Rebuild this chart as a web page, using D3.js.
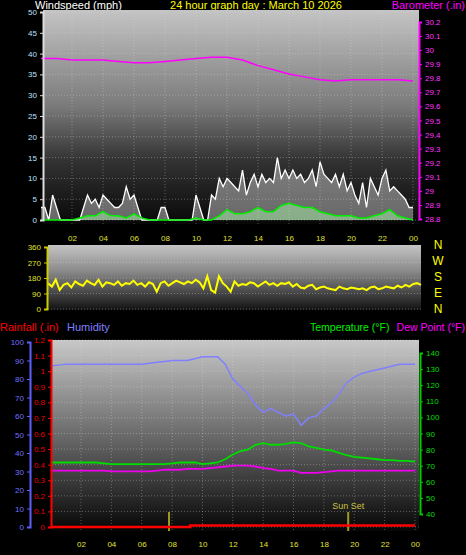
<!DOCTYPE html>
<html><head><meta charset="utf-8">
<script src="https://cdn.jsdelivr.net/npm/d3@7"></script>
<style>body{margin:0;background:#000}svg{display:block;font-family:"Liberation Sans",Arial,sans-serif}</style>
</head><body><div id="chart"></div>
<script>
// hour labels along each time axis
const hourTicks = ['02','04','06','08','10','12','14','16','18','20','22','00'];
// wind gusts every 15 min (mph)
const gust = [3,3,0,6, 3,0,0,0, 0,0,0,3, 6,4,5,3, 6,5,4,3, 3,4,8,5, 6,3,0,0, 0,0,0,3,
  3,0,0,0, 0,0,0,0, 6,3,0,0, 6,5,10,8, 10,9,8,7, 12,6,9,11, 8,11,9,10, 9,15,10,12,
  10,12,10,11, 9,10,12,8, 14,11,10,9, 11,8,11,7, 9,6,4,9, 3,10,8,6, 10,12,7,8, 7,6,5,3, 3];
// average wind every 30 min (mph)
const windAvg = [0,0,0,0,0,0.5,1,1,2,1,1,0.5,1.5,0.5,0,0,0,0,0,0,0.5,0,0,1,2.5,1.5,1.5,2,3,2,2,3.5,
  4,3.5,3,3,2,1.5,1,1,1,0.5,0.5,1,1.5,2.5,1,0.5,0];
// barometer hourly (in)
const baro = [29.94,29.94,29.93,29.93,29.93,29.92,29.91,29.91,29.92,29.93,29.94,29.95,29.95,29.93,
  29.89,29.86,29.83,29.81,29.79,29.78,29.79,29.79,29.79,29.79,29.78];
// wind direction every 15 min (deg)
const windDir = [150,130,170,110,140,150,125,160,145,135,165,150,140,170,130,155,150,140,160,135,
  150,145,165,140,150,130,155,145,100,150,160,135,150,165,155,145,160,150,170,155,
  120,190,110,95,190,150,130,100,160,135,145,140,155,150,130,145,160,140,150,135,
  150,145,155,130,145,125,120,135,140,115,125,130,120,115,110,130,120,115,125,120,
  115,120,110,125,130,115,120,130,125,120,135,125,140,130,145,150,140];
// bottom panel, every 30 min
const humidity = [87,87.5,88,88,88,88,88,88,88,88,88,88,88,88.5,89,89.5,90,90,90,91,92,92,92,88,
  80,76,72,66,62,64,62,60,61,55,59,60,64,67,72,78,81,83,84,85,86,87,88,88,88];
const temperature = [72,72,72,72,72,72,72,71.5,71,71,71,71,71,71,71,71,71.5,72,72,72,71,71.5,72,74,
  77,79,80,83,84,83,83,83.5,84.5,84,82,81,80,79.5,78,76.5,75.5,75,74.5,74,73.5,73.5,73,73,72.5];
const dewPoint = [67,67,67,67,67,67,67,67,66.5,66.5,66.5,66.5,66.5,66.5,67,67.5,67.5,67.5,68,68,68,68.5,69,69.5,
  70,70,70,69.5,68.5,68,67,67,67,65.5,65.5,65.5,66,66.5,67,67,67,67,67,67,67,67,67,67,67];
// rainfall total (in): [hour, value]
const rain = [[0,0],[9.2,0],[9.2,0.01],[24,0.01]];
const sunTimes = [7.8, 19.6];

const W = 466, H = 555;
const svg = d3.select('#chart').append('svg').attr('width', W).attr('height', H);
const defs = svg.append('defs');
function grad(id, stops) {
  const g = defs.append('linearGradient').attr('id', id).attr('x1', 0).attr('x2', 0).attr('y1', 0).attr('y2', 1);
  stops.forEach(s => g.append('stop').attr('offset', s[0]).attr('stop-color', s[1]));
}
grad('gTop', [[0, '#c4c4c4'], [0.45, '#7a7a7a'], [0.7, '#333'], [1, '#080808']]);
grad('gDir', [[0, '#c4c4c4'], [0.4, '#8a8a8a'], [1, '#111']]);
grad('gBot', [[0, '#c8c8c8'], [0.5, '#6a6a6a'], [1, '#050505']]);

function txt(x, y, s, col, size, anchor) {
  svg.append('text').attr('x', x).attr('y', y).attr('fill', col).attr('font-size', size || 10)
    .attr('text-anchor', anchor || 'start').text(s);
}
function panel(x0, x1, y0, y1, fill, xs, ys) {
  svg.append('rect').attr('x', x0).attr('y', y0).attr('width', x1 - x0).attr('height', y1 - y0).attr('fill', `url(#${fill})`);
  const g = svg.append('g').attr('stroke', '#ddd').attr('stroke-opacity', 0.35).attr('stroke-dasharray', '1,2');
  xs.forEach(v => g.append('line').attr('x1', v).attr('x2', v).attr('y1', y0).attr('y2', y1));
  ys.forEach(v => g.append('line').attr('x1', x0).attr('x2', x1).attr('y1', v).attr('y2', v));
}
function yAxis(scale, ticks, x, side, col, lineCol, fmt) {
  const ax = (side === 'left' ? d3.axisLeft(scale) : d3.axisRight(scale))
    .tickValues(ticks).tickSize(3).tickFormat(fmt || (d => d));
  const g = svg.append('g').attr('transform', `translate(${x},0)`).call(ax);
  g.select('.domain').attr('stroke', lineCol).attr('stroke-width', 2);
  g.selectAll('line').attr('stroke', lineCol);
  g.selectAll('text').attr('fill', col).attr('font-size', 8);
}
function xAxis(scale, y) {
  const g = svg.append('g').attr('transform', `translate(0,${y})`)
    .call(d3.axisBottom(scale).tickValues(d3.range(2, 25, 2)).tickSize(0).tickFormat((d, i) => hourTicks[i]));
  g.select('.domain').remove();
  g.selectAll('text').attr('fill', '#e0e030').attr('font-size', 8).attr('dy', 8);
}

// ---- titles
txt(35, 9, 'Windspeed (mph)', '#fff', 11);
txt(256, 9, '24 hour graph day : March 10 2026', '#ffff00', 11, 'middle');
txt(465, 9, 'Barometer (.in)', '#ff00ff', 11, 'end');

// ---- wind panel
const xT = d3.scaleLinear().domain([0, 24]).range([41, 413]);
const yW = d3.scaleLinear().domain([0, 50]).range([220, 12]);
const yB = d3.scaleLinear().domain([28.8, 30.2]).range([219, 22]);
panel(43, 419, 10, 224, 'gTop', d3.range(2, 25, 2).map(xT), d3.range(0, 51, 5).map(yW));
const tq = (d, i) => xT(i / 4), th = (d, i) => xT(i / 2);
svg.append('path').datum(gust).attr('fill', 'rgba(220,220,220,0.45)')
  .attr('d', d3.area().x(tq).y0(yW(0)).y1(d => yW(d)));
svg.append('path').datum(gust).attr('fill', 'none').attr('stroke', '#fff').attr('stroke-width', 1.3)
  .attr('d', d3.line().x(tq).y(d => yW(d)));
svg.append('path').datum(windAvg).attr('fill', 'rgba(170,240,170,0.5)')
  .attr('d', d3.area().x(th).y0(yW(0)).y1(d => yW(d)));
svg.append('path').datum(windAvg).attr('fill', 'none').attr('stroke', '#00ee00').attr('stroke-width', 1.5)
  .attr('d', d3.line().x(th).y(d => yW(d)));
svg.append('path').datum(baro).attr('fill', 'none').attr('stroke', '#ff00ff').attr('stroke-width', 1.5)
  .attr('d', d3.line().x((d, i) => xT(i)).y(d => yB(d)));
yAxis(yW, d3.range(0, 51, 5), 43, 'left', '#bfe0ff', '#ddd');
yAxis(yB, d3.range(28.8, 30.25, 0.1).map(v => +v.toFixed(1)), 419, 'right', '#ff33ff', '#ff00ff');
xAxis(xT, 230);

// ---- wind direction panel
const yD = d3.scaleLinear().domain([0, 360]).range([309, 247]);
const xD = d3.scaleLinear().domain([0, 24]).range([48, 421]);
panel(48, 421, 245, 310, 'gDir', [], [0, 90, 180, 270].map(yD));
svg.append('path').datum(windDir).attr('fill', 'none').attr('stroke', '#ffff00').attr('stroke-width', 2)
  .attr('d', d3.line().x((d, i) => xD(i / 4)).y(d => yD(d)));
yAxis(yD, [0, 90, 180, 270, 360], 47, 'left', '#e0e030', '#cccc00');
['N', 'W', 'S', 'E', 'N'].forEach((c, i) => txt(438, 249 + i * 16, c, '#ffff00', 12, 'middle'));

// ---- bottom panel titles
txt(0, 331, 'Rainfall (.in)', '#ff0000', 11);
txt(67, 331, 'Humidity', '#8080ff', 11);
txt(310, 331, 'Temperature (°F)', '#00ee00', 10.5);
txt(465, 331, 'Dew Point (°F)', '#ff00ff', 10.5, 'end');

const xB = d3.scaleLinear().domain([0, 24]).range([50.6, 415]);
const yH = d3.scaleLinear().domain([0, 100]).range([527, 342]);
const yR = d3.scaleLinear().domain([0, 1.2]).range([527, 340]);
const yTp = d3.scaleLinear().domain([40, 140]).range([514, 353]);
panel(52, 419, 340, 531, 'gBot', d3.range(2, 25, 2).map(xB), d3.range(0, 1.21, 0.1).map(yR));
sunTimes.forEach(t => svg.append('line').attr('x1', xB(t)).attr('x2', xB(t)).attr('y1', 512).attr('y2', 531)
  .attr('stroke', '#a09a20').attr('stroke-width', 2));
txt(xB(sunTimes[1]), 509, 'Sun Set', '#c8c040', 9, 'middle');
const hx = (d, i) => xB(i / 2);
svg.append('path').datum(humidity).attr('fill', 'none').attr('stroke', '#8080ff').attr('stroke-width', 1.5)
  .attr('d', d3.line().x(hx).y(d => yH(d)));
svg.append('path').datum(temperature).attr('fill', 'none').attr('stroke', '#00dd00').attr('stroke-width', 1.8)
  .attr('d', d3.line().x(hx).y(d => yTp(d)));
svg.append('path').datum(dewPoint).attr('fill', 'none').attr('stroke', '#ee00ee').attr('stroke-width', 1.8)
  .attr('d', d3.line().x(hx).y(d => yTp(d)));
svg.append('path').datum(rain).attr('fill', 'none').attr('stroke', '#ff0000').attr('stroke-width', 2.5)
  .attr('d', d3.line().x(d => xB(d[0])).y(d => yR(d[1])));
yAxis(yH, d3.range(0, 101, 10), 30, 'left', '#7070ff', '#6060ff');
yAxis(yR, d3.range(0, 1.21, 0.1).map(v => +v.toFixed(1)), 51, 'left', '#ee0000', '#ff0000');
yAxis(yTp, d3.range(40, 141, 10), 420, 'right', '#00dd00', '#00cc00');
xAxis(xB, 536);
</script></body></html>
